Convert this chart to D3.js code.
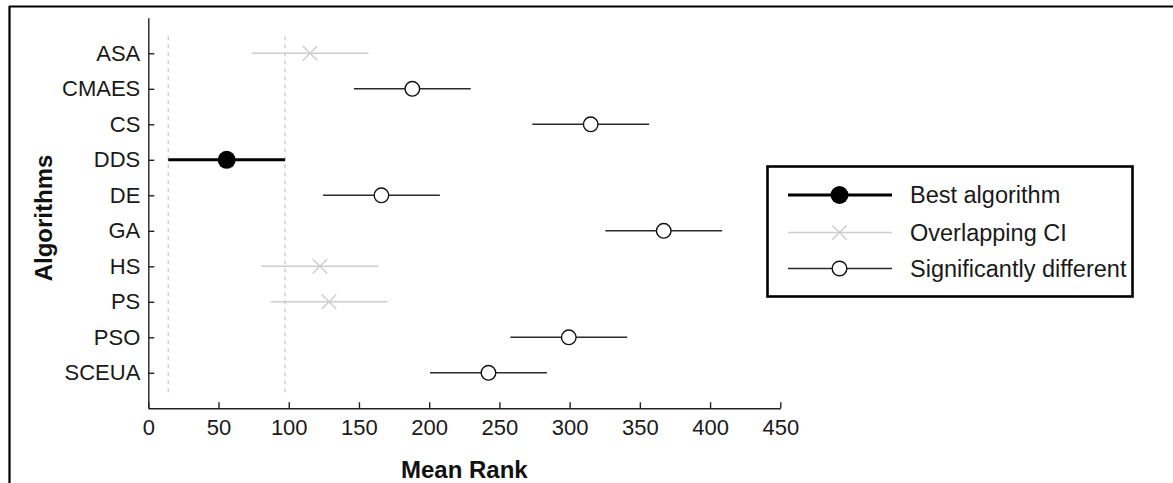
<!DOCTYPE html>
<html>
<head>
<meta charset="utf-8">
<script src="https://cdn.jsdelivr.net/npm/d3@7"></script>
<style>
  html, body { margin: 0; padding: 0; background: #fff; }
  svg { display: block; font-family: "Liberation Sans", Arial, sans-serif; }
</style>
</head>
<body>
<div id="chart"></div>
<script>
// algorithms, top to bottom
const algorithms = ["ASA", "CMAES", "CS", "DDS", "DE", "GA", "HS", "PS", "PSO", "SCEUA"];
// mean rank of each algorithm
const meanRanks = [115.2, 188, 315, 55.8, 166, 367, 122.2, 128.7, 299.4, 242.2];
// group: best / overlap / diff
const groups = ["overlap", "diff", "diff", "best", "diff", "diff", "overlap", "overlap", "diff", "diff"];
// half width of the confidence interval (same for all)
const ciHalf = 41.6;
const xTicks = [0, 50, 100, 150, 200, 250, 300, 350, 400, 450];
const legendLabels = ["Best algorithm", "Overlapping CI", "Significantly different"];
const legendGroups = ["best", "overlap", "diff"];

const W = 1173, H = 483;
const margin = {left: 148.3, right: W - 780.3, top: 17.8, bottom: H - 408.3};

const svg = d3.select("#chart").append("svg")
  .attr("width", W).attr("height", H);

// outer frame (top + left edges only visible)
svg.append("line").attr("x1", 9).attr("x2", W).attr("y1", 6.5).attr("y2", 6.5)
  .attr("stroke", "#000").attr("stroke-width", 2.2);
svg.append("line").attr("x1", 9.5).attr("x2", 9.5).attr("y1", 6).attr("y2", H)
  .attr("stroke", "#000").attr("stroke-width", 2.2);

const x = d3.scaleLinear().domain([0, 450]).range([margin.left, W - margin.right]);
const y = d3.scaleLinear().domain([0, algorithms.length + 1]).range([margin.top, H - margin.bottom]);

const style = {
  best:    {stroke: "#000", width: 3, color: "#000"},
  overlap: {stroke: "#cdcdcd", width: 1.6, color: "#cdcdcd"},
  diff:    {stroke: "#2b2b2b", width: 1.6, color: "#2b2b2b"}
};

// dashed lines at the CI bounds of the best algorithm
const bestIdx = groups.indexOf("best");
[meanRanks[bestIdx] - ciHalf, meanRanks[bestIdx] + ciHalf].forEach(v => {
  svg.append("line")
    .attr("x1", x(v)).attr("x2", x(v))
    .attr("y1", y(0.52)).attr("y2", y(10.55))
    .attr("stroke", "#c4c4c4").attr("stroke-width", 1.2)
    .attr("stroke-dasharray", "4,4");
});

// axes
const xAxis = d3.axisBottom(x).tickValues(xTicks).tickSizeInner(-6).tickSizeOuter(0).tickPadding(11);
const yAxis = d3.axisLeft(y).tickValues(d3.range(1, algorithms.length + 1))
  .tickFormat(i => algorithms[i - 1]).tickSizeInner(-6).tickSizeOuter(0).tickPadding(8);

const gx = svg.append("g").attr("transform", `translate(0,${H - margin.bottom})`).call(xAxis);
const gy = svg.append("g").attr("transform", `translate(${margin.left},0)`).call(yAxis);
[gx, gy].forEach(g => {
  g.selectAll("path, line").attr("stroke", "#222").attr("stroke-width", 1.4);
  g.selectAll("text").attr("font-size", 22).attr("fill", "#1a1a1a")
    .attr("font-family", "Liberation Sans, Arial, sans-serif");
});

svg.append("text")
  .attr("x", (x(0) + x(450)) / 2).attr("y", 478)
  .attr("text-anchor", "middle").attr("font-size", 24).attr("font-weight", "bold")
  .attr("fill", "#111").text("Mean Rank");

svg.append("text")
  .attr("transform", `translate(52,218) rotate(-90)`)
  .attr("text-anchor", "middle").attr("font-size", 24).attr("font-weight", "bold")
  .attr("fill", "#111").text("Algorithms");

// draw one marker
function marker(g, grp, cx, cy) {
  const s = style[grp];
  if (grp === "best") {
    g.append("circle").attr("cx", cx).attr("cy", cy).attr("r", 9).attr("fill", "#000");
  } else if (grp === "overlap") {
    const r = 7.3;
    g.append("path")
      .attr("d", `M${cx - r},${cy - r}L${cx + r},${cy + r}M${cx - r},${cy + r}L${cx + r},${cy - r}`)
      .attr("stroke", s.color).attr("stroke-width", 1.4).attr("fill", "none");
  } else {
    g.append("circle").attr("cx", cx).attr("cy", cy).attr("r", 7.3)
      .attr("fill", "#fff").attr("stroke", "#111").attr("stroke-width", 1.4);
  }
}

// error bars
const rows = svg.append("g");
algorithms.forEach((name, i) => {
  const grp = groups[i];
  const cy = y(i + 1);
  rows.append("line")
    .attr("x1", x(meanRanks[i] - ciHalf)).attr("x2", x(meanRanks[i] + ciHalf))
    .attr("y1", cy).attr("y2", cy)
    .attr("stroke", style[grp].stroke).attr("stroke-width", style[grp].width);
  marker(rows, grp, x(meanRanks[i]), cy);
});

// legend
const lg = svg.append("g");
lg.append("rect").attr("x", 767.5).attr("y", 166.5).attr("width", 365).attr("height", 130)
  .attr("fill", "#fff").attr("stroke", "#000").attr("stroke-width", 2.6);
const legendY = [195, 232.5, 268.5];
legendLabels.forEach((lab, i) => {
  const grp = legendGroups[i];
  lg.append("line").attr("x1", 788).attr("x2", 892).attr("y1", legendY[i]).attr("y2", legendY[i])
    .attr("stroke", style[grp].stroke).attr("stroke-width", style[grp].width);
  marker(lg, grp, 839.5, legendY[i]);
  lg.append("text").attr("x", 910).attr("y", legendY[i]).attr("dy", "0.35em")
    .attr("font-size", 23.5).attr("fill", "#1a1a1a").text(lab);
});
</script>
</body>
</html>
